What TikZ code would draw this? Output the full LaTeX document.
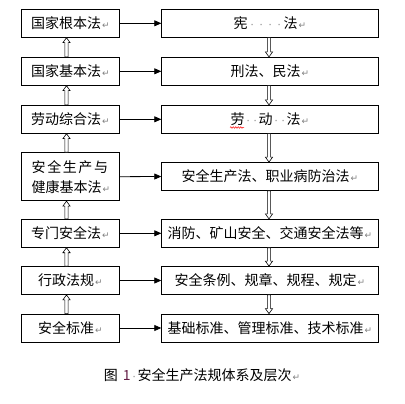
\documentclass[tikz,border=0pt]{standalone}
\usepackage{fontspec}
\setmainfont{Noto Sans CJK SC}
\newfontfamily\dv{DejaVu Sans}
\usetikzlibrary{calc,arrows.meta,decorations.pathmorphing}
\definecolor{markgray}{gray}{0.5}
\definecolor{numcol}{RGB}{100,30,70}
\newcommand{\pmark}{\hspace{1pt}{\dv\fontsize{9}{9}\selectfont\textcolor{markgray}{↵}}}
\newcommand{\sdot}[1]{\makebox[#1]{\dv\fontsize{10}{10}\selectfont\textcolor{markgray}{·}}}
\newcommand{\hollowup}[3]{%
  \draw[hollow] ($(#1.north)+(#3-1.6,0)$) -- ($(#2.south)+(#3-1.6,5)$) -- ($(#2.south)+(#3-3.6,5)$)
   -- ($(#2.south)+(#3,0)$) -- ($(#2.south)+(#3+3.6,5)$) -- ($(#2.south)+(#3+1.6,5)$)
   -- ($(#1.north)+(#3+1.6,0)$) -- cycle;}
\newcommand{\hollowdown}[3]{%
  \draw[hollow] ($(#1.south)+(#3-1.6,0)$) -- ($(#2.north)+(#3-1.6,-5)$) -- ($(#2.north)+(#3-3.6,-5)$)
   -- ($(#2.north)+(#3,0)$) -- ($(#2.north)+(#3+3.6,-5)$) -- ($(#2.north)+(#3+1.6,-5)$)
   -- ($(#1.south)+(#3+1.6,0)$) -- cycle;}
\begin{document}
\begin{tikzpicture}[x=1pt,y=-1pt,font=\fontsize{14}{20}\selectfont,
  lbox/.style={draw,line width=0.8pt,minimum width=97.6pt,minimum height=28pt,inner sep=0pt},
  rbox/.style={draw,line width=0.8pt,minimum width=216.6pt,minimum height=28pt,inner sep=0pt},
  harr/.style={line width=0.8pt,-{Triangle[length=7pt,width=6pt]}},
  hollow/.style={draw,line width=0.6pt,fill=white}]
\useasboundingbox (0,0) rectangle (405,404);
\fill[white] (0,0) rectangle (405,404);

\node[lbox] (l1) at (70.5,23.3) {国家根本法\pmark};
\node[lbox] (l2) at (70.5,71.3) {国家基本法\pmark};
\node[lbox] (l3) at (70.5,119.3) {劳动综合法\pmark};
\node[lbox,minimum height=48pt,align=left,text width=77.6pt,inner xsep=10pt] (l4) at (70.5,176.7)
  {安\hspace{1.6pt}全\hspace{1.6pt}生\hspace{1.6pt}产\hspace{1.6pt}与\\健康基本法\rlap{\pmark}};
\node[lbox] (l5) at (70.5,233.3) {专门安全法\pmark};
\node[lbox] (l6) at (70.5,280.5) {行政法规\pmark};
\node[lbox] (l7) at (70.5,328) {安全标准\pmark};

\node[rbox] (r1) at (270,23.3) {宪\sdot{9pt}\sdot{9pt}\sdot{9pt}\sdot{9pt}法\pmark};
\node[rbox] (r2) at (270,71.3) {刑法、民法\pmark};
\node[rbox] (r3) at (270,119.3) {劳\sdot{7pt}\sdot{7pt}动\sdot{7pt}\sdot{7pt}法\pmark};
\node[rbox] (r4) at (270,176.5) {安全生产法、职业病防治法\pmark};
\node[rbox] (r5) at (270,233.3) {消防、矿山安全、交通安全法等\pmark};
\node[rbox] (r6) at (270,280.5) {安全条例、规章、规程、规定\pmark};
\node[rbox] (r7) at (270,328) {基础标准、管理标准、技术标准\pmark};

\draw[red,line width=0.5pt,decorate,decoration={snake,amplitude=0.8pt,segment length=2.5pt}] (230,127.5) -- (244,127.5);

\foreach \i in {1,...,7} {\draw[harr] (l\i.east) -- (r\i.west);}

\hollowup{l2}{l1}{-4}
\hollowup{l3}{l2}{-4}
\hollowup{l4}{l3}{-4}
\hollowup{l5}{l4}{-4}
\hollowup{l6}{l5}{-4}
\hollowup{l7}{l6}{-4}
\hollowdown{r1}{r2}{-1}
\hollowdown{r2}{r3}{-1}
\hollowdown{r3}{r4}{-1}
\hollowdown{r4}{r5}{-1}
\hollowdown{r5}{r6}{-1}
\hollowdown{r6}{r7}{-1}

\node (cap) at (202,375) {图\hspace{5pt}\textcolor{numcol}{1}\sdot{7pt}安全生产法规体系及层次\pmark};
\end{tikzpicture}
\end{document}
